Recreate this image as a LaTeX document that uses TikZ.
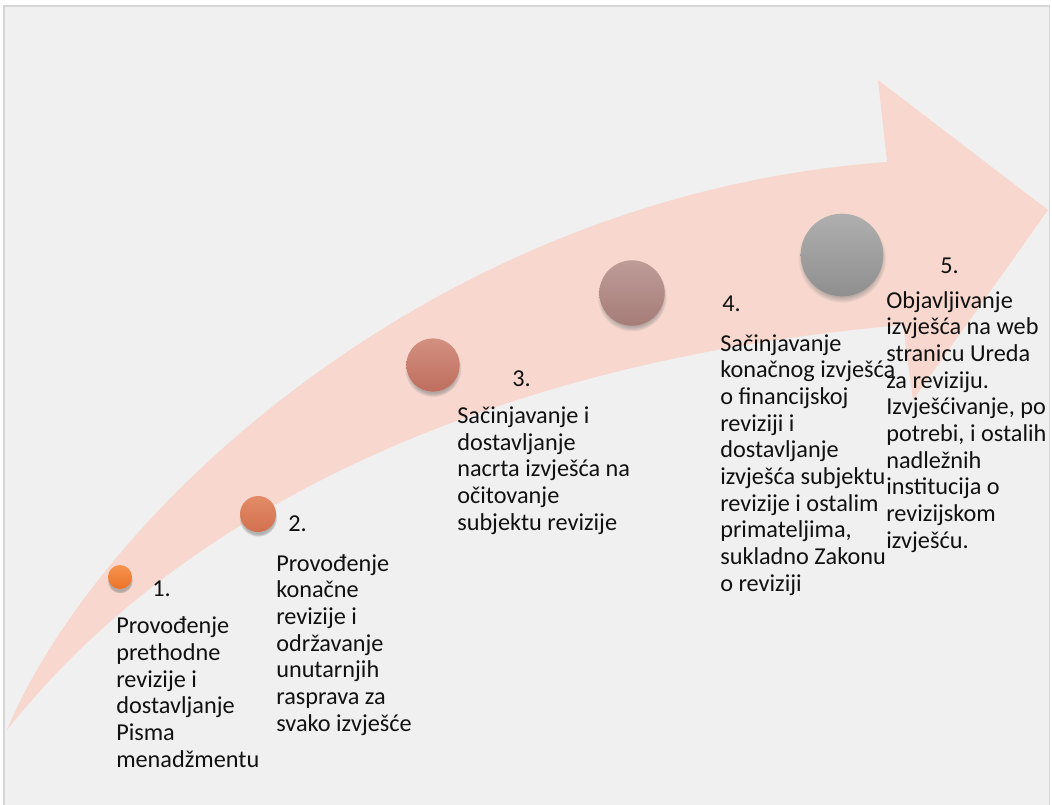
\documentclass[tikz,border=0pt]{standalone}
\usepackage{fontspec}
\setmainfont{Carlito}
\usetikzlibrary{shadows}
\definecolor{bgc}{HTML}{F0F0F0}
\definecolor{framec}{HTML}{D6D6D6}
\definecolor{pinkc}{HTML}{F8D8CE}
\definecolor{txt}{HTML}{111111}
\definecolor{c1t}{HTML}{F5934F}\definecolor{c1b}{HTML}{EC7228}
\definecolor{c2t}{HTML}{E38B68}\definecolor{c2b}{HTML}{D2704E}
\definecolor{c3t}{HTML}{D39080}\definecolor{c3b}{HTML}{BE6E5E}
\definecolor{c4t}{HTML}{BE9C98}\definecolor{c4b}{HTML}{A67C77}
\definecolor{c5t}{HTML}{AFAFAF}\definecolor{c5b}{HTML}{8F8F8F}
\tikzset{
  lbl/.style={anchor=base west, inner sep=0pt, font=\fontsize{18.2pt}{20pt}\selectfont, align=left, text=txt},
  num/.style={anchor=base west, inner sep=0pt, font=\fontsize{18.2pt}{20pt}\selectfont, text=txt},
  ball/.style={circle, inner sep=0pt, draw=none,
    circular drop shadow={shadow xshift=0pt, shadow yshift=-2.5pt, opacity=.55, shadow scale=1.07}},
}
\begin{document}
\begin{tikzpicture}[x=0.75pt,y=-0.75pt]
\useasboundingbox (0,0) rectangle (1052,804);
\fill[white] (0,0) rectangle (1052,804);
\filldraw[fill=bgc, draw=framec, line width=1.2pt] (4,6) rectangle (1049.5,830);
% big curved arrow
\fill[pinkc] (7,730) .. controls (95,518) and (430,195) .. (887,162)
  -- (878,80) -- (1048,210) -- (913,400) -- (903,325)
  .. controls (500,360) and (185,505) .. (7,730) -- cycle;
% circles
\node[ball, minimum size=18pt, top color=c1t, bottom color=c1b] (b1) at (120,577) {};
\node[ball, minimum size=27pt, top color=c2t, bottom color=c2b] (b2) at (258,514) {};
\node[ball, minimum size=40pt, top color=c3t, bottom color=c3b] (b3) at (433,365) {};
\node[ball, minimum size=49pt, top color=c4t, bottom color=c4b] (b4) at (632,293) {};
\node[ball, minimum size=62pt, top color=c5t, bottom color=c5b] (b5) at (842,255) {};
% numbers
\node[num] (n1) at (152,596) {1.};
\node[num] (n2) at (288,531) {2.};
\node[num] (n3) at (512,386) {3.};
\node[num] (n4) at (722,311) {4.};
\node[num] (n5) at (940,273) {5.};
% texts (anchor = baseline of the last line)
\node[lbl] (t1) at (116,767) {Provođenje\\prethodne\\revizije i\\dostavljanje\\Pisma\\menadžmentu};
\node[lbl] (t2) at (276,731) {Provođenje\\konačne\\revizije i\\održavanje\\unutarnjih\\rasprava za\\svako izvješće};
\node[lbl] (t3) at (457,530) {Sačinjavanje i\\dostavljanje\\nacrta izvješća na\\očitovanje\\subjektu revizije};
\node[lbl] (t4) at (720,591) {Sačinjavanje\\konačnog izvješća\\o financijskoj\\reviziji i\\dostavljanje\\izvješća subjektu\\revizije i ostalim\\primateljima,\\sukladno Zakonu\\o reviziji};
\node[lbl] (t5) at (886,548) {Objavljivanje\\izvješća na web\\stranicu Ureda\\za reviziju.\\Izvješćivanje, po\\potrebi, i ostalih\\nadležnih\\institucija o\\revizijskom\\izvješću.};
\end{tikzpicture}
\end{document}
